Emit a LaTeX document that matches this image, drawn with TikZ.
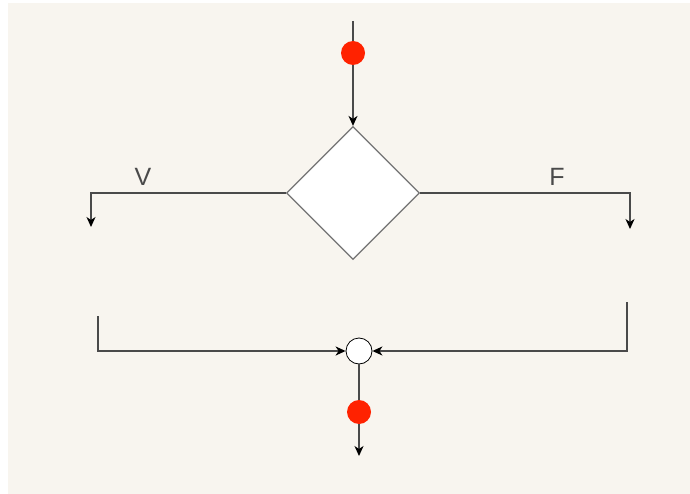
\documentclass[tikz,border=0pt]{standalone}
\usepackage{fontspec}
\setmainfont{Liberation Sans}
\usetikzlibrary{positioning, arrows.meta, shapes.geometric}
\definecolor{paper}{HTML}{F8F5EF}
\definecolor{linegray}{HTML}{4A4A4A}
\definecolor{dotred}{HTML}{FF2200}

\begin{document}
\begin{tikzpicture}[
  x=1pt, y=-1pt,
  arr/.style={-{Stealth[length=10pt, width=9pt, inset=3pt, black]},
              line width=1.5pt, draw=linegray},
  cond/.style={diamond, draw=black!55, fill=white, line width=1.2pt,
               minimum width=133pt, minimum height=133pt, inner sep=0pt},
  dot/.style={circle, fill=dotred, minimum size=24pt, inner sep=0pt},
  merge/.style={circle, draw=black, fill=white, line width=0.8pt,
                minimum size=26pt, inner sep=0pt},
  lbl/.style={font=\fontsize{25}{28}\selectfont, text=linegray, inner sep=0pt},
]
\fill[paper] (8,3) rectangle (690,494);
\useasboundingbox (0,0) rectangle (690,494);

% decision
\coordinate (start) at (353,21);
\node[cond] (dec) at (353,193) {};
\draw[arr] (start) -- (dec);
\node[dot] (d1) at (353,53) {};

% branches
\coordinate (vend) at (91,227);
\coordinate (fend) at (630,229);
\draw[arr] (dec.west) -| (vend);
\draw[arr] (dec.east) -| (fend);
\node[lbl] (v) at (143,177) {V};
\node[lbl] (f) at (557,177) {F};

% merge
\node[merge] (join) at (359,351) {};
\coordinate (vin) at (98,316);
\coordinate (fin) at (627,302);
\draw[arr] (vin) |- (join);
\draw[arr] (fin) |- (join);
\coordinate (stop) at (359,456);
\draw[arr] (join) -- (stop);
\node[dot] (d2) at (359,412) {};
\end{tikzpicture}
\end{document}
